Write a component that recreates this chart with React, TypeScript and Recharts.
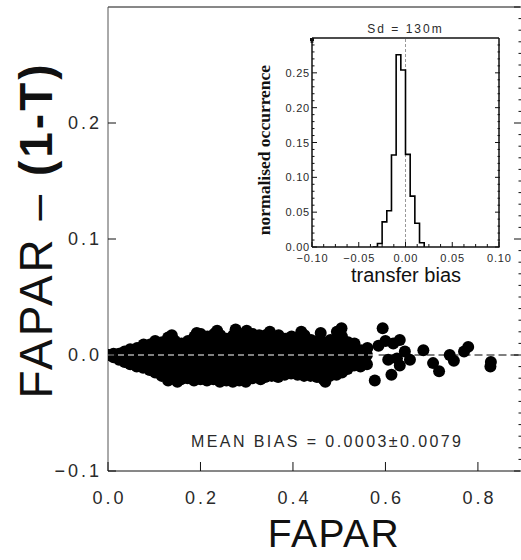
import React from 'react';
import { ComposedChart, Line, ReferenceLine, Scatter, ScatterChart, XAxis, YAxis } from 'recharts';

// [FAPAR, FAPAR - (1-T)]
const CLOUD: [number, number][] = [
  [0.002, 0.0],
  [0.012, -0.002], [0.012, 0.001],
  [0.024, -0.004], [0.024, 0.001],
  [0.036, -0.006], [0.036, 0.0], [0.036, 0.003],
  [0.048, -0.008], [0.048, -0.002], [0.048, 0.005],
  [0.062, -0.01], [0.062, -0.003], [0.062, 0.004], [0.063, 0.006],
  [0.076, -0.011], [0.076, -0.004], [0.076, 0.003], [0.077, 0.009],
  [0.09, -0.013], [0.09, -0.005], [0.09, 0.002], [0.091, 0.009],
  [0.102, -0.015], [0.102, -0.008], [0.102, -0.001], [0.103, 0.006], [0.102, 0.012],
  [0.116, -0.018], [0.116, -0.01], [0.116, -0.003], [0.116, 0.004], [0.117, 0.011],
  [0.13, -0.022], [0.13, -0.014], [0.13, -0.006], [0.13, 0.001], [0.131, 0.008], [0.13, 0.015],
  [0.144, -0.02], [0.144, -0.012], [0.144, -0.004], [0.144, 0.004], [0.145, 0.012],
  [0.158, -0.021], [0.158, -0.013], [0.158, -0.005], [0.158, 0.003], [0.159, 0.01],
  [0.172, -0.02], [0.172, -0.012], [0.172, -0.004], [0.172, 0.004], [0.173, 0.012],
  [0.186, -0.022], [0.186, -0.014], [0.186, -0.006], [0.186, 0.002], [0.186, 0.01], [0.187, 0.016],
  [0.2, -0.021], [0.2, -0.013], [0.2, -0.005], [0.2, 0.003], [0.2, 0.011], [0.201, 0.018],
  [0.214, -0.022], [0.214, -0.014], [0.214, -0.006], [0.214, 0.002], [0.214, 0.01], [0.215, 0.016],
  [0.228, -0.021], [0.228, -0.013], [0.228, -0.005], [0.228, 0.003], [0.228, 0.011], [0.229, 0.018],
  [0.242, -0.023], [0.242, -0.015], [0.242, -0.007], [0.242, 0.001], [0.242, 0.009], [0.243, 0.017],
  [0.256, -0.022], [0.256, -0.014], [0.256, -0.006], [0.256, 0.002], [0.256, 0.01], [0.257, 0.014],
  [0.27, -0.023], [0.27, -0.015], [0.27, -0.007], [0.27, 0.001], [0.27, 0.009], [0.271, 0.017],
  [0.284, -0.022], [0.284, -0.014], [0.284, -0.006], [0.284, 0.002], [0.284, 0.01], [0.285, 0.018],
  [0.298, -0.023], [0.298, -0.015], [0.298, -0.007], [0.298, 0.001], [0.298, 0.009], [0.298, 0.016], [0.3, 0.021],
  [0.312, -0.02], [0.312, -0.012], [0.312, -0.004], [0.312, 0.004], [0.312, 0.012], [0.313, 0.018],
  [0.326, -0.018], [0.326, -0.01], [0.326, -0.002], [0.326, 0.006], [0.326, 0.013], [0.327, 0.017],
  [0.34, -0.019], [0.34, -0.011], [0.34, -0.003], [0.34, 0.005], [0.34, 0.012], [0.341, 0.017],
  [0.354, -0.018], [0.354, -0.01], [0.354, -0.002], [0.354, 0.006], [0.354, 0.013], [0.355, 0.016],
  [0.368, -0.019], [0.368, -0.011], [0.368, -0.003], [0.368, 0.005], [0.368, 0.012], [0.369, 0.017],
  [0.382, -0.017], [0.382, -0.009], [0.382, -0.001], [0.382, 0.007], [0.383, 0.014],
  [0.396, -0.016], [0.396, -0.008], [0.396, 0.0], [0.396, 0.008], [0.397, 0.016],
  [0.41, -0.017], [0.41, -0.009], [0.41, -0.001], [0.41, 0.007], [0.411, 0.015],
  [0.424, -0.018], [0.424, -0.01], [0.424, -0.002], [0.424, 0.006], [0.424, 0.014], [0.425, 0.017],
  [0.438, -0.018], [0.438, -0.01], [0.438, -0.002], [0.438, 0.006], [0.439, 0.013],
  [0.452, -0.019], [0.452, -0.011], [0.452, -0.003], [0.452, 0.005], [0.453, 0.012],
  [0.466, -0.021], [0.466, -0.013], [0.466, -0.005], [0.466, 0.003], [0.467, 0.011],
  [0.48, -0.018], [0.48, -0.01], [0.48, -0.002], [0.48, 0.006], [0.481, 0.013],
  [0.494, -0.017], [0.494, -0.009], [0.494, -0.001], [0.494, 0.007], [0.494, 0.014], [0.495, 0.02],
  [0.506, -0.015], [0.506, -0.007], [0.506, 0.001], [0.506, 0.009], [0.506, 0.016], [0.505, 0.023],
  [0.518, -0.012], [0.518, -0.004], [0.518, 0.004], [0.519, 0.011],
  [0.532, -0.009], [0.532, -0.002], [0.532, 0.005], [0.533, 0.01],
  [0.546, -0.01], [0.546, -0.003], [0.547, 0.004],
  [0.56, -0.008], [0.56, 0.0], [0.561, 0.006],
  // a few outliers along the edges of the cloud
  [0.138, 0.017], [0.192, 0.019], [0.236, 0.021], [0.276, 0.022], [0.35, 0.02],
  [0.46, 0.019], [0.418, 0.02], [0.15, -0.023], [0.33, -0.021], [0.47, -0.023],
  // sparse high-FAPAR tail
  [0.577, -0.022], [0.585, 0.008], [0.594, 0.023], [0.6, 0.012], [0.606, -0.004],
  [0.613, -0.017], [0.617, 0.01], [0.625, -0.003], [0.631, 0.013], [0.631, -0.009],
  [0.642, 0.003], [0.653, -0.004], [0.682, 0.004], [0.703, -0.007], [0.716, -0.014],
  [0.739, 0.0], [0.748, -0.005], [0.77, 0.003], [0.779, 0.007], [0.827, -0.01], [0.828, -0.006],
];

const X_TICKS = [0, 0.2, 0.4, 0.6, 0.8];
const Y_TICKS = [-0.1, 0, 0.1, 0.2];
const X_DOMAIN: [number, number] = [0, 0.891];
const Y_DOMAIN: [number, number] = [-0.1, 0.3];
const WHITE_DASH_END = 0.585;

// inset histogram of transfer bias (bin left edge, normalised occurrence)
const HIST_BIN = [-0.035, -0.03, -0.025, -0.02, -0.015, -0.01, -0.005, 0, 0.005, 0.01, 0.015, 0.02];
const HIST_OCC = [0, 0.005, 0.036, 0.052, 0.132, 0.276, 0.254, 0.133, 0.073, 0.034, 0.006, 0];
const INSET_X_DOMAIN: [number, number] = [-0.1, 0.1];
const INSET_Y_DOMAIN: [number, number] = [0, 0.3];

const steps = (from: number, to: number, step: number) => {
  const out: number[] = [];
  for (let i = 0; from + i * step <= to + 1e-9; i++) out.push(Math.round((from + i * step) * 1e6) / 1e6);
  return out;
};
const onStep = (v: number, step: number) => Math.abs(v / step - Math.round(v / step)) < 1e-6;
const fmt = (v: number, d: number) => (v < -1e-9 ? '\u2212' : '') + Math.abs(v).toFixed(d);

const SANS = '"Liberation Sans", Arial, sans-serif';
const INK = '#111';
const LABEL_INK = '#2a2a2a';

const points = CLOUD.map(([fapar, bias]) => ({ fapar, bias }));
const hist = HIST_BIN.map((bin, i) => ({ bin, occ: HIST_OCC[i] }));

// ---- main plot ticks (IDL style: ticks point inward)
const bottomTick = (p: any) => (
  <g>
    <line x1={p.x} y1={p.y} x2={p.x} y2={p.y - 9} stroke={INK} />
    <text x={p.x + 1.5} y={p.y + 33} textAnchor="middle" fontFamily={SANS} fontSize={18} letterSpacing={3} fill={LABEL_INK}>
      {fmt(p.payload.value, 1)}
    </text>
  </g>
);
const leftTick = (p: any) => (
  <g>
    <line x1={p.x} y1={p.y} x2={p.x + 8} y2={p.y} stroke={INK} />
    <text x={p.x - 6} y={p.y + 6} textAnchor="end" fontFamily={SANS} fontSize={18} letterSpacing={3} fill={LABEL_INK}>
      {fmt(p.payload.value, 1)}
    </text>
  </g>
);
const topTick = (p: any) => {
  const len = onStep(p.payload.value, 0.2) ? 8 : 4;
  return <line x1={p.x} y1={p.y} x2={p.x} y2={p.y + len} stroke={INK} />;
};
const rightTick = (p: any) => {
  const len = onStep(p.payload.value, 0.1) ? 7 : 2.5;
  return <line x1={p.x + 1} y1={p.y} x2={p.x + 1 - len} y2={p.y} stroke={INK} />;
};

// ---- inset ticks
const insetBottomTick = (p: any) => {
  const major = onStep(p.payload.value, 0.05);
  return (
    <g>
      <line x1={p.x} y1={p.y} x2={p.x} y2={p.y - (major ? 5 : 3)} stroke={INK} />
      {major && (
        <text x={p.x + 0.4} y={p.y + 15} textAnchor="middle" fontFamily={SANS} fontSize={11} letterSpacing={0.8} fill={LABEL_INK}>
          {fmt(p.payload.value, 2)}
        </text>
      )}
    </g>
  );
};
const insetTopTick = (p: any) => {
  const major = onStep(p.payload.value, 0.05);
  return <line x1={p.x} y1={p.y} x2={p.x} y2={p.y + (major ? 5 : 3)} stroke={INK} />;
};
const insetLeftTick = (p: any) => {
  const major = onStep(p.payload.value, 0.05);
  return (
    <g>
      <line x1={p.x} y1={p.y} x2={p.x + (major ? 5 : 2.5)} y2={p.y} stroke={INK} />
      {major && (
        <text x={p.x - 2} y={p.y + 4} textAnchor="end" fontFamily={SANS} fontSize={11} letterSpacing={0.8} fill={LABEL_INK}>
          {fmt(p.payload.value, 2)}
        </text>
      )}
    </g>
  );
};
const insetRightTick = (p: any) => {
  const major = onStep(p.payload.value, 0.05);
  return <line x1={p.x + 1} y1={p.y} x2={p.x + 1 - (major ? 5 : 2.5)} y2={p.y} stroke={INK} />;
};

const layer: React.CSSProperties = { position: 'absolute', left: 0, top: 0 };

export default function App() {
  return (
    <div style={{ position: 'absolute', left: 0, top: 0, width: 521, height: 560, background: '#fff', overflow: 'hidden' }}>
      <div style={layer}>
        <ScatterChart width={521} height={560} margin={{ top: 6, right: 0, bottom: 0, left: 0 }}>
          <XAxis
            dataKey="fapar"
            type="number"
            domain={X_DOMAIN}
            allowDataOverflow
            ticks={X_TICKS}
            interval={0}
            height={89}
            tickSize={0}
            tickMargin={0}
            tickLine={false}
            axisLine={{ stroke: INK }}
            tick={bottomTick}
          />
          <XAxis
            xAxisId="top"
            orientation="top"
            type="number"
            domain={X_DOMAIN}
            allowDataOverflow
            ticks={steps(0, 0.85, 0.05)}
            interval={0}
            height={1}
            tickSize={0}
            tickMargin={0}
            tickLine={false}
            axisLine={{ stroke: INK }}
            tick={topTick}
          />
          <YAxis
            dataKey="bias"
            type="number"
            domain={Y_DOMAIN}
            allowDataOverflow
            ticks={Y_TICKS}
            interval={0}
            width={108}
            tickSize={0}
            tickMargin={0}
            tickLine={false}
            axisLine={{ stroke: '#555' }}
            tick={leftTick}
          />
          <YAxis
            yAxisId="right"
            orientation="right"
            type="number"
            domain={Y_DOMAIN}
            allowDataOverflow
            ticks={steps(-0.1, 0.3, 0.01)}
            interval={0}
            width={1}
            tickSize={0}
            tickMargin={0}
            tickLine={false}
            axisLine={false}
            tick={rightTick}
          />
          <Scatter
            data={points}
            isAnimationActive={false}
            shape={(p: any) => <circle cx={p.cx} cy={p.cy} r={6} fill="#000" />}
          />
          <ReferenceLine
            segment={[{ x: WHITE_DASH_END, y: 0 }, { x: X_DOMAIN[1], y: 0 }]}
            stroke="#000"
            strokeDasharray="8 4"
            zIndex={1000}
          />
          <ReferenceLine
            segment={[{ x: 0, y: 0 }, { x: WHITE_DASH_END, y: 0 }]}
            stroke="#fff"
            strokeWidth={1.2}
            strokeDasharray="6 4"
            zIndex={1000}
          />
        </ScatterChart>
      </div>

      <div style={layer}>
        <ComposedChart width={521} height={300} data={hist} margin={{ top: 37, right: 21, bottom: 0, left: 0 }}>
          <XAxis
            dataKey="bin"
            type="number"
            domain={INSET_X_DOMAIN}
            allowDataOverflow
            ticks={steps(-0.1, 0.1, 0.0125)}
            interval={0}
            height={53}
            tickSize={0}
            tickMargin={0}
            tickLine={false}
            axisLine={{ stroke: INK, strokeWidth: 1.5 }}
            tick={insetBottomTick}
          />
          <XAxis
            xAxisId="top"
            orientation="top"
            type="number"
            domain={INSET_X_DOMAIN}
            allowDataOverflow
            ticks={steps(-0.0875, 0.0875, 0.0125)}
            interval={0}
            height={1}
            tickSize={0}
            tickMargin={0}
            tickLine={false}
            axisLine={{ stroke: INK, strokeWidth: 1.5 }}
            tick={insetTopTick}
          />
          <YAxis
            type="number"
            domain={INSET_Y_DOMAIN}
            allowDataOverflow
            ticks={steps(0, 0.29, 0.01)}
            interval={0}
            width={312}
            tickSize={0}
            tickMargin={0}
            tickLine={false}
            axisLine={{ stroke: INK, strokeWidth: 1.5 }}
            tick={insetLeftTick}
          />
          <YAxis
            yAxisId="right"
            orientation="right"
            type="number"
            domain={INSET_Y_DOMAIN}
            allowDataOverflow
            ticks={steps(0, 0.29, 0.01)}
            interval={0}
            width={1}
            tickSize={0}
            tickMargin={0}
            tickLine={false}
            axisLine={{ stroke: INK, strokeWidth: 1.5 }}
            tick={insetRightTick}
          />
          <ReferenceLine x={0} stroke="#999" strokeDasharray="3 2" />
          <Line
            dataKey="occ"
            type="stepAfter"
            stroke="#000"
            strokeWidth={1.6}
            dot={false}
            activeDot={false}
            isAnimationActive={false}
          />
        </ComposedChart>
      </div>

      <svg style={layer} width={521} height={560}>
        <text
          transform="translate(52,230) rotate(-90)"
          textAnchor="middle"
          fontFamily={SANS}
          fontSize={46}
          letterSpacing={3}
          fill={INK}
        >
          FAPAR – <tspan fontWeight="bold">(1-T)</tspan>
        </text>
        <text x={334} y={547} textAnchor="middle" fontFamily={SANS} fontSize={39} letterSpacing={1.5} fill={INK}>
          FAPAR
        </text>
        <text x={191} y={447} fontFamily={SANS} fontSize={16} textLength={270} lengthAdjust="spacing" fill={LABEL_INK}>
          MEAN BIAS = 0.0003±0.0079
        </text>
        <text
          transform="translate(270,150) rotate(-90)"
          textAnchor="middle"
          fontFamily={'"Liberation Serif", "Times New Roman", serif'}
          fontWeight="bold"
          fontSize={17.5}
          fill={INK}
        >
          normalised occurrence
        </text>
        <text x={405.5} y={32.5} textAnchor="middle" fontFamily={SANS} fontSize={12} letterSpacing={2} fill={LABEL_INK}>
          Sd = 130m
        </text>
        <text x={406} y={282} textAnchor="middle" fontFamily={SANS} fontSize={20} fill={INK}>
          transfer bias
        </text>
      </svg>
    </div>
  );
}
